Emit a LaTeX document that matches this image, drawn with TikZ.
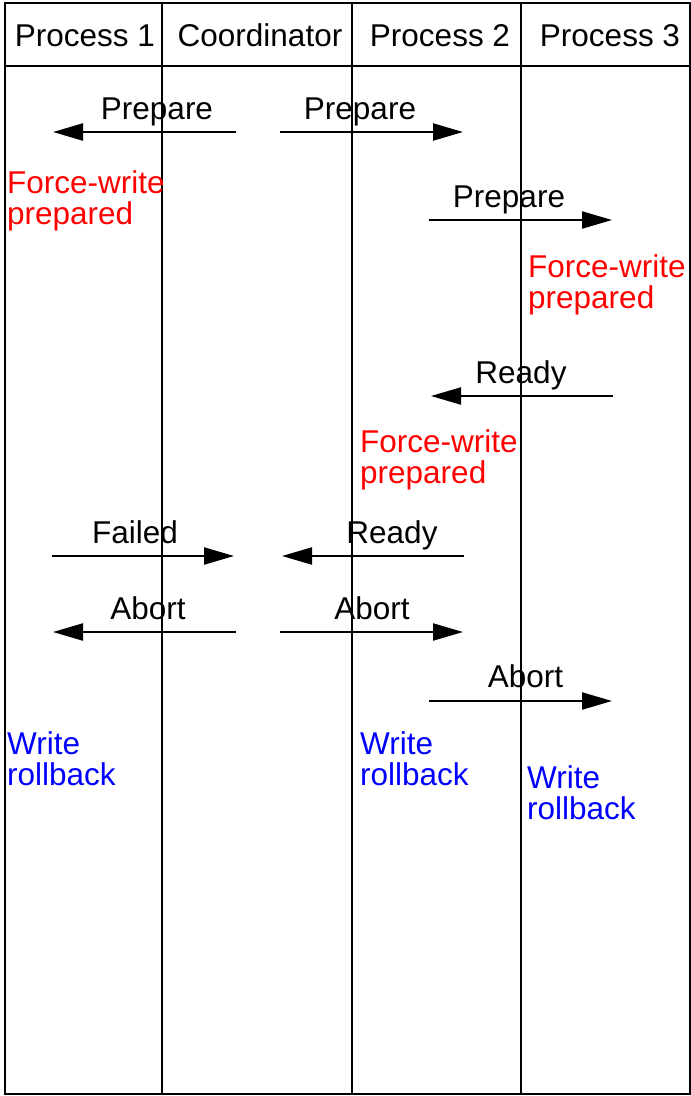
\documentclass[tikz,border=0pt]{standalone}
\usepackage{fontspec}
\setmainfont{Liberation Sans}
\usetikzlibrary{arrows.meta}
\definecolor{fwred}{HTML}{FF0000}
\definecolor{rbblue}{HTML}{0000FF}

\begin{document}
\begin{tikzpicture}[x=1pt,y=-1pt,
  every node/.style={font=\fontsize{31.5}{31}\selectfont,inner sep=0pt},
  lane/.style={line width=2.2pt},
  msg/.style={line width=2.2pt,-{Triangle[length=30pt,width=17pt]}},
  lbl/.style={anchor=base},
  note/.style={anchor=base west,align=left}]
  \useasboundingbox (0,0) rectangle (691,1096);
  % frame, header row and lanes
  \draw[lane] (5,3) rectangle (690,1094);
  \draw[lane] (5,66) -- (690,66);
  \foreach \x in {162,352,521}{
    \draw[lane] (\x,3) -- (\x,1094);}
  % header
  \node[lbl] (hp1) at (85,46) {Process 1};
  \node[lbl] (hco) at (260,46) {Coordinator};
  \node[lbl] (hp2) at (440,46) {Process 2};
  \node[lbl] (hp3) at (610,46) {Process 3};
  % prepare phase
  \coordinate (m1s) at (236,132); \coordinate (m1e) at (53,132);
  \draw[msg] (m1s) -- (m1e);
  \node[lbl] (l1) at (157,119) {Prepare};
  \coordinate (m2s) at (280,132); \coordinate (m2e) at (463,132);
  \draw[msg] (m2s) -- (m2e);
  \node[lbl] (l2) at (360,119) {Prepare};
  \coordinate (m3s) at (429,220); \coordinate (m3e) at (612,220);
  \draw[msg] (m3s) -- (m3e);
  \node[lbl] (l3) at (509,207) {Prepare};
  \coordinate (m4s) at (613,396); \coordinate (m4e) at (431,396);
  \draw[msg] (m4s) -- (m4e);
  \node[lbl] (l4) at (521,383) {Ready};
  % votes
  \coordinate (m5s) at (52,556); \coordinate (m5e) at (234,556);
  \draw[msg] (m5s) -- (m5e);
  \node[lbl] (l5) at (135,543) {Failed};
  \coordinate (m6s) at (464,556); \coordinate (m6e) at (282,556);
  \draw[msg] (m6s) -- (m6e);
  \node[lbl] (l6) at (392,543) {Ready};
  % abort
  \coordinate (m7s) at (236,632); \coordinate (m7e) at (53,632);
  \draw[msg] (m7s) -- (m7e);
  \node[lbl] (l7) at (148,619) {Abort};
  \coordinate (m8s) at (280,632); \coordinate (m8e) at (463,632);
  \draw[msg] (m8s) -- (m8e);
  \node[lbl] (l8) at (372,619) {Abort};
  \coordinate (m9s) at (429,701); \coordinate (m9e) at (612,701);
  \draw[msg] (m9s) -- (m9e);
  \node[lbl] (l9) at (525.5,687) {Abort};
  % log writes (base = last line)
  \node[note,fwred] (fw1) at (7,224) {Force-write\\prepared};
  \node[note,fwred] (fw3) at (528,308) {Force-write\\prepared};
  \node[note,fwred] (fw2) at (360,483) {Force-write\\prepared};
  \node[note,rbblue] (rb1) at (7,785) {Write\\rollback};
  \node[note,rbblue] (rb2) at (360,785) {Write\\rollback};
  \node[note,rbblue] (rb3) at (527,819) {Write\\rollback};
\end{tikzpicture}
\end{document}
